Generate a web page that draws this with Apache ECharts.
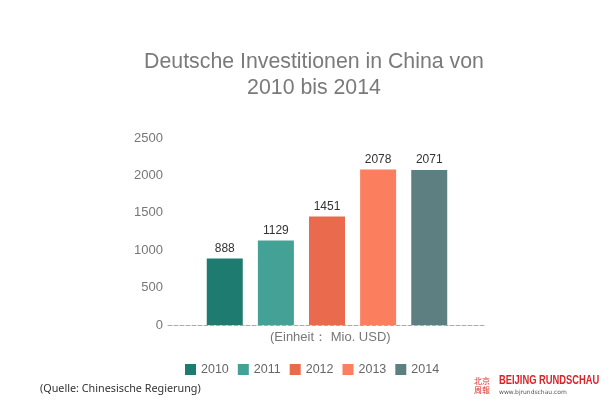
<!DOCTYPE html>
<html>
<head>
<meta charset="utf-8">
<script src="https://cdn.jsdelivr.net/npm/echarts@6/dist/echarts.min.js"></script>
<style>
  html, body { margin: 0; padding: 0; background: #fff; }
  #chart { width: 615px; height: 399px; }
</style>
</head>
<body>
<div id="chart"></div>
<script>
// data
const years = ['2010', '2011', '2012', '2013', '2014']
const values = [888, 1129, 1451, 2078, 2071]
const colors = ['#1e7b6f', '#43a195', '#e96a4c', '#fb7f5e', '#5e7f82']

const chart = echarts.init(document.getElementById('chart'), null, { renderer: 'canvas' })

const series = years.map((y, i) => ({
  name: y,
  type: 'bar',
  data: [values[i]],
  barWidth: 36,
  barGap: '42%',
  itemStyle: { color: colors[i] },
  label: {
    show: true,
    position: 'top',
    distance: 4,
    color: '#333',
    fontSize: 12,
    fontFamily: 'Liberation Sans',
  },
}))

chart.setOption({
  animation: false,
  backgroundColor: '#fff',
  textStyle: { fontFamily: 'Liberation Sans, Arial, sans-serif' },
  title: {
    text: 'Deutsche Investitionen in China von\n2010 bis 2014',
    left: 309,
    textAlign: 'center',
    top: 44,
    textStyle: { color: '#7a7a7a', fontSize: 21.3, fontWeight: 'normal', lineHeight: 26 },
  },
  grid: { left: 168, right: 129, top: 138, bottom: 74 },
  xAxis: {
    type: 'category',
    data: [''],
    axisLine: { lineStyle: { color: '#aaa', type: 'dashed', width: 1 } },
    axisTick: { show: false },
    axisLabel: { show: false },
  },
  yAxis: {
    type: 'value',
    min: 0,
    max: 2500,
    interval: 500,
    axisLine: { show: false },
    axisTick: { show: false },
    splitLine: { show: false },
    axisLabel: { color: '#777', fontSize: 13, margin: 5, formatter: (v) => String(v) },
  },
  legend: {
    data: years,
    top: 358,
    left: 180,
    itemWidth: 11,
    itemHeight: 11,
    itemGap: 9,
    icon: 'rect',
    textStyle: { color: '#666', fontSize: 12.5 },
  },
  graphic: [
    {
      type: 'text',
      left: 270,
      top: 331,
      style: { text: '(Einheit： Mio. USD)', fill: '#777', fontSize: 13, fontFamily: 'Liberation Sans' },
    },
    {
      type: 'text',
      left: 40,
      top: 383,
      style: { text: '(Quelle: Chinesische Regierung)', fill: '#333', fontSize: 10.8, fontFamily: 'Noto Sans' },
    },
    {
      type: 'text',
      left: 474,
      top: 376,
      style: { text: '北京\n周報', fill: '#d92b2b', fontSize: 8, lineHeight: 9, fontFamily: 'Noto Sans CJK SC' },
    },
    {
      type: 'text',
      x: 499,
      y: 375,
      scaleX: 0.78,
      style: { text: 'BEIJING RUNDSCHAU', fill: '#d8232a', fontSize: 12, fontWeight: 'bold', fontFamily: 'Liberation Sans' },
    },
    {
      type: 'text',
      left: 499,
      top: 389,
      style: { text: 'www.bjrundschau.com', fill: '#555', fontSize: 6, fontFamily: 'DejaVu Sans' },
    },
  ],
  series: series,
})
</script>
</body>
</html>
